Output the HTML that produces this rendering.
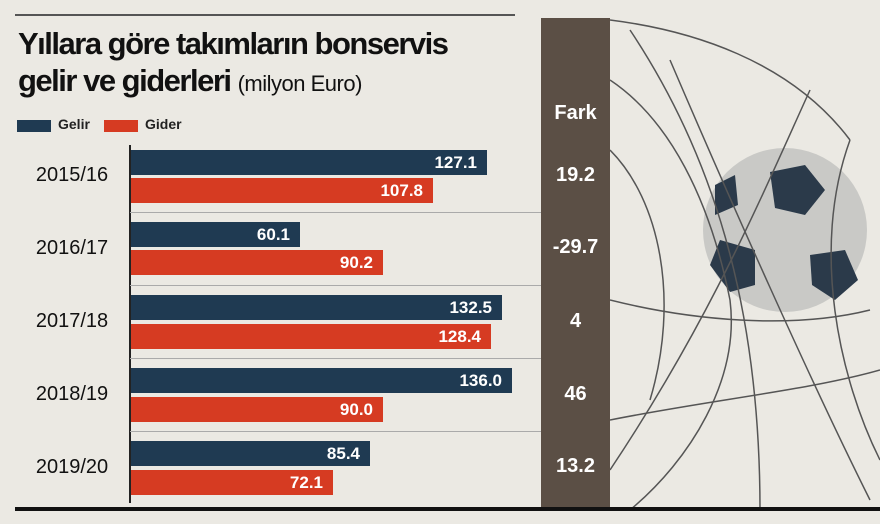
<!DOCTYPE html>
<html><head><meta charset="utf-8"><style>
body{margin:0;width:880px;height:524px;background:#ebe9e3;position:relative;overflow:hidden;font-family:"Liberation Sans",sans-serif}
.a{position:absolute}
.t{font-weight:bold;font-size:31px;letter-spacing:-1.5px;color:#111;white-space:nowrap}
.bar{position:absolute;height:25px;color:#fff;font-weight:bold;font-size:17px;text-align:right;box-sizing:border-box;padding-right:10px;line-height:26px}
.g{background:#1f3a52}.r{background:#d63b22}
.yr{position:absolute;left:22px;width:100px;font-size:20px;color:#111;text-align:center}
.fk{position:absolute;left:541px;width:69px;text-align:center;color:#fff;font-weight:bold;font-size:20px}
.sep{position:absolute;left:130px;width:411px;height:1px;background:#aaa}
</style></head><body>
<div class="a" style="left:15px;top:14px;width:500px;height:2px;background:#555"></div>
<div class="a t" style="left:18px;top:26px">Yıllara göre takımların bonservis</div>
<div class="a t" style="left:18px;top:63px">gelir ve giderleri <span style="font-weight:normal;font-size:22px;letter-spacing:-0.5px">(milyon Euro)</span></div>
<div class="a" style="left:17px;top:120px;width:34px;height:12px;background:#1f3a52"></div>
<div class="a" style="left:58px;top:116px;font-size:14px;font-weight:bold;color:#222">Gelir</div>
<div class="a" style="left:104px;top:120px;width:34px;height:12px;background:#d63b22"></div>
<div class="a" style="left:145px;top:116px;font-size:14px;font-weight:bold;color:#222">Gider</div>
<div class="a" style="left:541px;top:18px;width:69px;height:492px;background:#5b4f45"></div>
<div class="fk" style="top:102px">Fark</div>
<div class="a" style="left:129px;top:145px;width:2px;height:358px;background:#222"></div>
<div class="sep" style="top:212px"></div><div class="sep" style="top:285px"></div><div class="sep" style="top:358px"></div><div class="sep" style="top:431px"></div>
<div class="bar g" style="left:131px;top:150px;width:356px">127.1</div>
<div class="bar r" style="left:131px;top:178px;width:302px">107.8</div>
<div class="bar g" style="left:131px;top:222px;width:169px">60.1</div>
<div class="bar r" style="left:131px;top:250px;width:252px">90.2</div>
<div class="bar g" style="left:131px;top:295px;width:371px">132.5</div>
<div class="bar r" style="left:131px;top:324px;width:360px">128.4</div>
<div class="bar g" style="left:131px;top:368px;width:381px">136.0</div>
<div class="bar r" style="left:131px;top:397px;width:252px">90.0</div>
<div class="bar g" style="left:131px;top:441px;width:239px">85.4</div>
<div class="bar r" style="left:131px;top:470px;width:202px">72.1</div>
<div class="yr" style="top:164px">2015/16</div>
<div class="yr" style="top:237px">2016/17</div>
<div class="yr" style="top:310px">2017/18</div>
<div class="yr" style="top:383px">2018/19</div>
<div class="yr" style="top:456px">2019/20</div>
<div class="fk" style="top:164px">19.2</div>
<div class="fk" style="top:236px">-29.7</div>
<div class="fk" style="top:310px">4</div>
<div class="fk" style="top:383px">46</div>
<div class="fk" style="top:455px">13.2</div>
<svg class="a" style="left:610px;top:0" width="270" height="524">
<circle cx="785" cy="230" r="82" fill="#c9c9c6" transform="translate(-610,0)"/>
<g fill="#2b3a4a" transform="translate(-610,0)">
<polygon points="770,172 805,165 825,190 805,215 775,208"/>
<polygon points="720,240 755,250 755,285 730,292 710,265"/>
<polygon points="810,255 845,250 858,280 835,300 812,285"/>
<polygon points="715,185 735,175 738,205 715,215"/>
</g>
<g stroke="#555" stroke-width="1.5" fill="none">
<path d="M0,20 C80,30 180,60 240,140"/>
<path d="M0,80 C60,120 100,200 120,300 C130,380 80,460 20,510"/>
<path d="M0,150 C50,200 70,300 40,400"/>
<path d="M20,30 C100,150 150,300 150,510"/>
<path d="M0,300 C80,320 180,330 260,310"/>
<path d="M0,420 C100,400 200,390 270,370"/>
<path d="M60,60 C120,200 200,380 260,500"/>
<path d="M200,90 C150,200 100,320 0,470"/>
<path d="M240,140 C200,250 230,380 270,460"/>
</g>
</svg>
<div class="a" style="left:15px;top:507px;width:865px;height:4px;background:#111"></div>
</body></html>
